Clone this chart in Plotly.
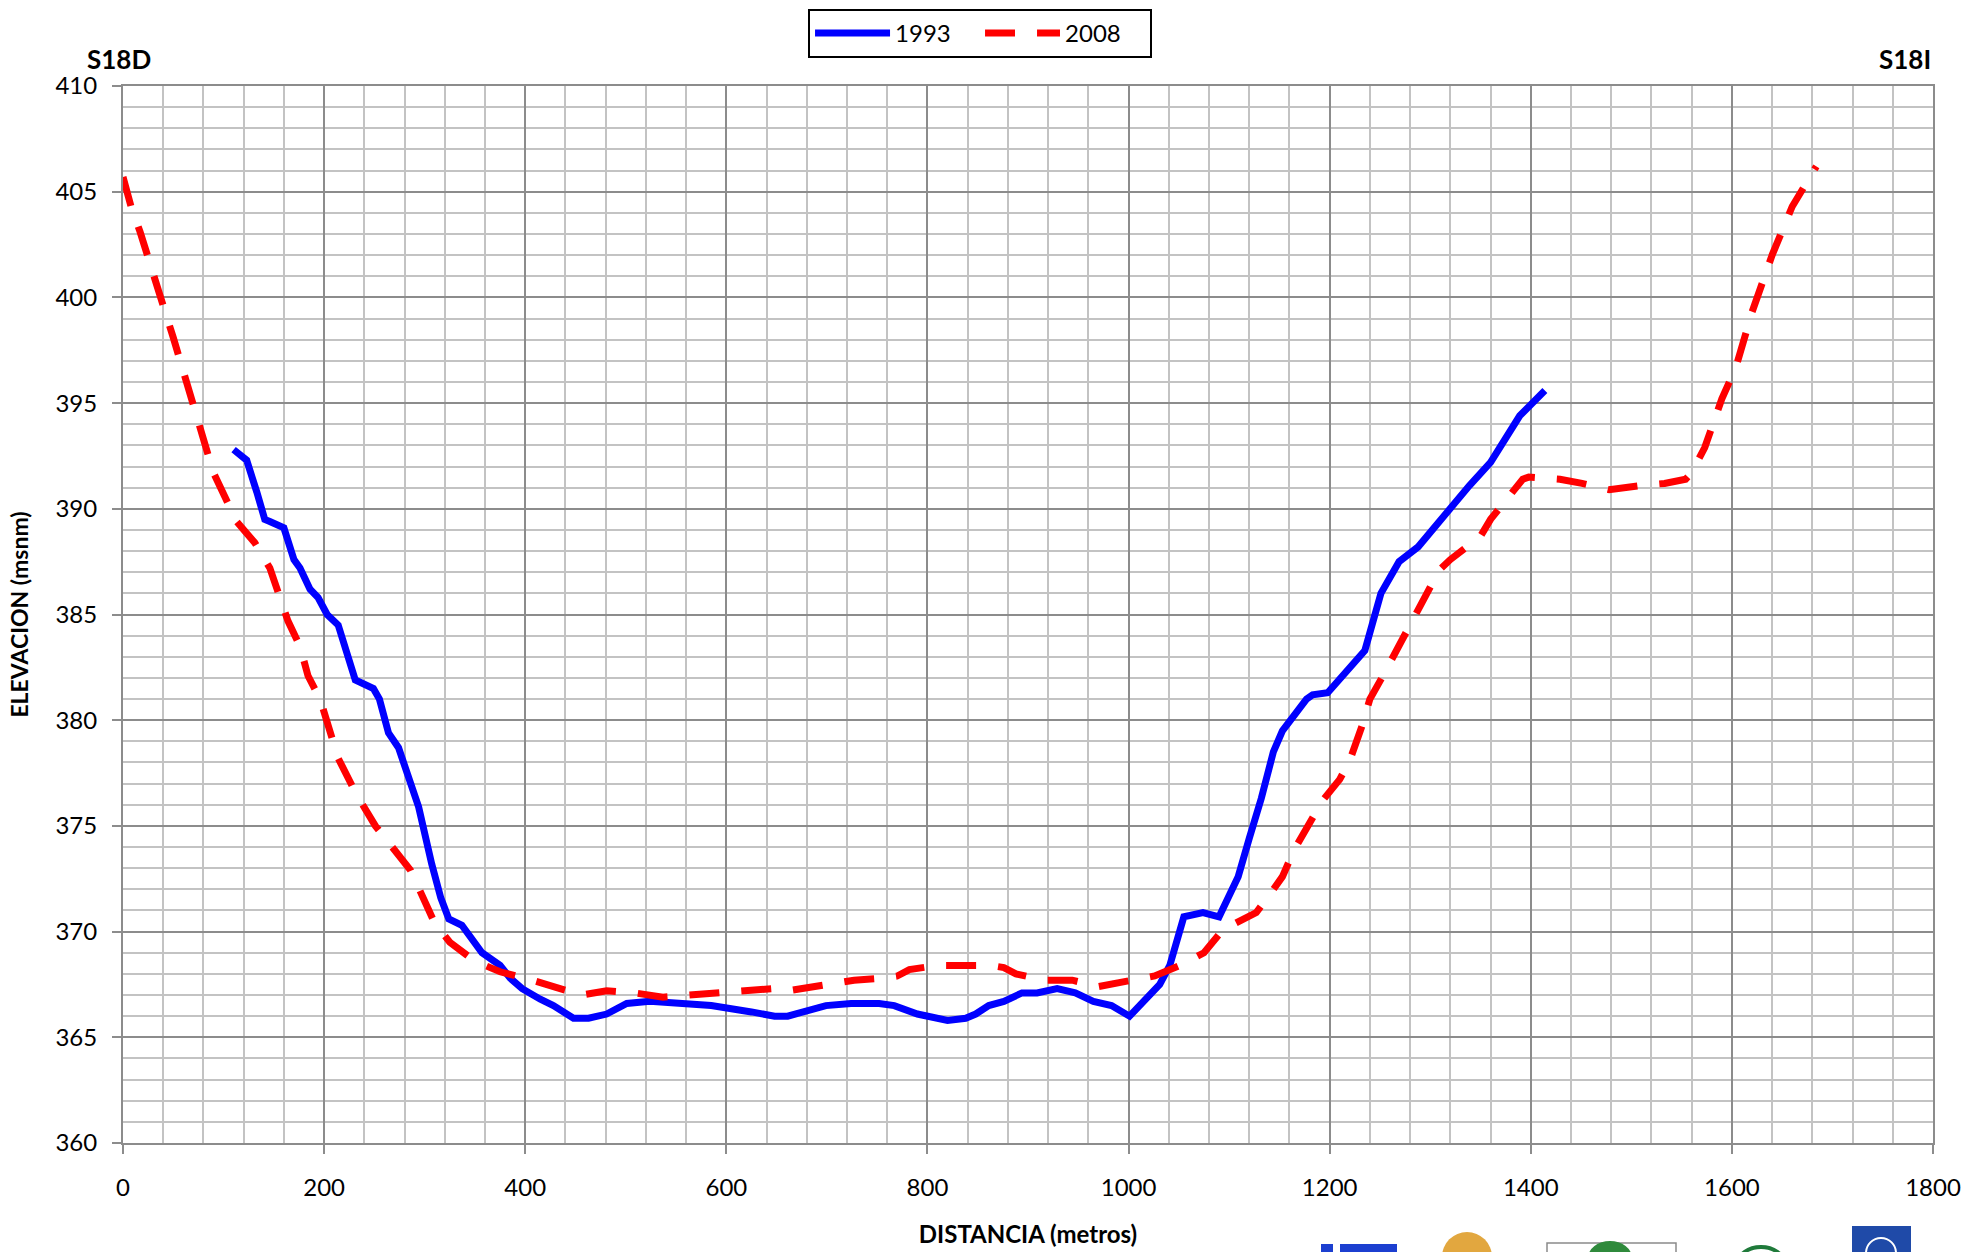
import plotly.graph_objects as go

# ---- data ----
dist_1993 = [110, 123, 133, 141, 146, 160, 170, 176, 186, 194, 203, 214, 231, 249, 255,
             264, 274, 294, 307, 316, 324, 337, 357, 375, 385, 397, 415, 428, 448, 463,
             481, 501, 524, 560, 585, 625, 648, 661, 699, 724, 752, 767, 790, 820, 838,
             848, 861, 876, 894, 909, 929, 947, 965, 983, 1001, 1031, 1041, 1055, 1074,
             1090, 1109, 1120, 1132, 1144, 1153, 1177, 1183, 1198, 1217, 1235, 1251, 1269,
             1288, 1305, 1322, 1339, 1360, 1389, 1414]
elev_1993 = [392.8, 392.3, 390.8, 389.5, 389.4, 389.1, 387.6, 387.2, 386.2, 385.8, 385.0,
             384.5, 381.9, 381.5, 381.0, 379.4, 378.7, 375.9, 373.2, 371.6, 370.6, 370.3,
             369.0, 368.4, 367.8, 367.3, 366.8, 366.5, 365.9, 365.9, 366.1, 366.6, 366.7,
             366.6, 366.5, 366.2, 366.0, 366.0, 366.5, 366.6, 366.6, 366.5, 366.1, 365.8,
             365.9, 366.1, 366.5, 366.7, 367.1, 367.1, 367.3, 367.1, 366.7, 366.5, 366.0,
             367.5, 368.4, 370.7, 370.9, 370.7, 372.6, 374.4, 376.3, 378.5, 379.5, 381.0,
             381.2, 381.3, 382.3, 383.3, 386.0, 387.5, 388.2, 389.2, 390.2, 391.1, 392.2,
             394.4, 395.6]

dist_2008 = [0, 8, 17, 25, 33, 42, 50, 58, 66, 75, 83, 90, 102, 113, 131, 146, 164, 176,
             184, 196, 214, 232, 251, 270, 286, 310, 325, 350, 375, 400, 428, 456, 481,
             509, 537, 565, 592, 620, 646, 661, 674, 702, 727, 755, 770, 782, 810, 835,
             863, 876, 888, 916, 944, 970, 1001, 1026, 1051, 1075, 1094, 1117, 1127, 1138,
             1153, 1165, 1178, 1193, 1210, 1220, 1232, 1240, 1253, 1266, 1280, 1291, 1303,
             1309, 1320, 1343, 1350, 1360, 1375, 1392, 1398, 1429, 1451, 1478, 1509, 1533,
             1554, 1560, 1573, 1581, 1590, 1604, 1620, 1640, 1660, 1684]
elev_2008 = [405.7, 404.3, 403.1, 401.8, 400.6, 399.3, 398.1, 396.8, 395.6, 394.1, 393.0,
             391.7, 390.5, 389.4, 388.4, 387.2, 384.7, 383.5, 382.1, 381.0, 378.2, 376.5,
             375.0, 373.8, 372.9, 370.4, 369.5, 368.6, 368.1, 367.8, 367.4, 367.0, 367.2,
             367.1, 366.9, 367.0, 367.1, 367.2, 367.3, 367.2, 367.3, 367.5, 367.7, 367.8,
             367.9, 368.2, 368.4, 368.4, 368.4, 368.3, 368.0, 367.7, 367.7, 367.4, 367.7,
             367.9, 368.4, 369.0, 370.1, 370.7, 370.9, 371.6, 372.6, 373.9, 375.0, 376.2,
             377.2, 378.1, 379.7, 381.0, 382.1, 383.3, 384.6, 385.5, 386.6, 387.1, 387.6,
             388.4, 388.7, 389.5, 390.4, 391.4, 391.5, 391.4, 391.2, 390.9, 391.1, 391.2,
             391.4, 391.7, 392.9, 394.1, 395.2, 396.7, 399.3, 402.0, 404.3, 406.2]

series_names = ["1993", "2008"]
x_range = [0, 1800]
y_range = [360, 410]
left_label = "S18D"
right_label = "S18I"
x_title = "DISTANCIA (metros)"
y_title = "ELEVACION (msnm)"

FONT = "Lato"
MAJOR = "#8c8c8c"
MINOR = "#c3c3c3"

W, H = 1963, 1252
ML, MR, MT, MB = 123, 30, 86, 109

fig = go.Figure()
fig.add_trace(go.Scatter(x=dist_1993, y=elev_1993, mode="lines", name=series_names[0],
                         line=dict(color="#0000ff", width=7)))
fig.add_trace(go.Scatter(x=dist_2008, y=elev_2008, mode="lines", name=series_names[1],
                         line=dict(color="#ff0000", width=7, dash="30px,22px")))

axis_common = dict(
    showgrid=True, gridcolor=MAJOR, gridwidth=2,
    showline=True, linecolor=MAJOR, linewidth=2, mirror=True,
    ticks="outside", ticklen=9, tickwidth=2, tickcolor=MAJOR,
    zeroline=False, automargin=False,
    tickfont=dict(family=FONT, size=24, color="#000000"),
)

fig.update_xaxes(range=x_range, dtick=200, tick0=0,
                 minor=dict(dtick=40, showgrid=True, gridcolor=MINOR, gridwidth=2, ticks=""),
                 ticklabelstandoff=13,
                 title=dict(text="<b>" + x_title + "</b>", font=dict(family=FONT, size=24, color="#000"),
                            standoff=26),
                 **axis_common)
fig.update_yaxes(range=y_range, dtick=5, tick0=360,
                 minor=dict(dtick=1, showgrid=True, gridcolor=MINOR, gridwidth=2, ticks=""),
                 ticklabelstandoff=10,
                 title=dict(text="<b>" + y_title + "</b>", font=dict(family=FONT, size=23, color="#000"),
                            standoff=20),
                 **axis_common)

fig.add_annotation(text="<b>" + left_label + "</b>", xref="paper", yref="paper",
                   x=-0.002, y=1.0, xanchor="center", yanchor="bottom", yshift=9,
                   showarrow=False, font=dict(family=FONT, size=26, color="#000"))
fig.add_annotation(text="<b>" + right_label + "</b>", xref="paper", yref="paper",
                   x=1.0, y=1.0, xanchor="right", yanchor="bottom", yshift=9,
                   showarrow=False, font=dict(family=FONT, size=26, color="#000"))


# decorative logo placeholders at the bottom-right (page pixel -> paper coords)
def px(x):
    return (x - ML) / (W - ML - MR)


def py(y):
    return (H - MB - y) / (H - MT - MB)


def rect(x0, y0, x1, y1, **kw):
    fig.add_shape(type="rect", xref="paper", yref="paper",
                  x0=px(x0), x1=px(x1), y0=py(y1), y1=py(y0), **kw)


def oval(x0, y0, x1, y1, **kw):
    fig.add_shape(type="circle", xref="paper", yref="paper",
                  x0=px(x0), x1=px(x1), y0=py(y1), y1=py(y0), **kw)


rect(1321, 1244, 1333, 1262, fillcolor="#1c3fd0", line_width=0)
rect(1340, 1244, 1397, 1252, fillcolor="#1c3fd0", line_width=0)
oval(1442, 1232, 1492, 1282, fillcolor="#e2a73f", line_width=0)
rect(1547, 1243, 1676, 1262, fillcolor="white", line=dict(color="#8a8a8a", width=1.5))
oval(1588, 1241, 1632, 1275, fillcolor="#2f8a3c", line_width=0)
oval(1738, 1247, 1784, 1280, fillcolor="rgba(0,0,0,0)", line=dict(color="#1f7a3a", width=4))
rect(1852, 1226, 1911, 1262, fillcolor="#1f4aa8", line_width=0)
oval(1866, 1238, 1896, 1268, fillcolor="rgba(0,0,0,0)", line=dict(color="white", width=2))

fig.update_layout(
    width=W, height=H,
    margin=dict(l=ML, r=MR, t=MT, b=MB, pad=0, autoexpand=False),
    paper_bgcolor="white", plot_bgcolor="white",
    font=dict(family=FONT, size=22, color="#000"),
    showlegend=True,
    legend=dict(orientation="h", x=0.4735, xanchor="center", y=1.073, yanchor="top",
                bgcolor="white", bordercolor="#000000", borderwidth=2,
                font=dict(family=FONT, size=24, color="#000"),
                itemwidth=75, entrywidth=80, traceorder="normal"),
)

fig.write_html("out.html", config={"displayModeBar": False},
               post_script="document.body.style.margin='0';document.body.style.overflow='hidden';")
